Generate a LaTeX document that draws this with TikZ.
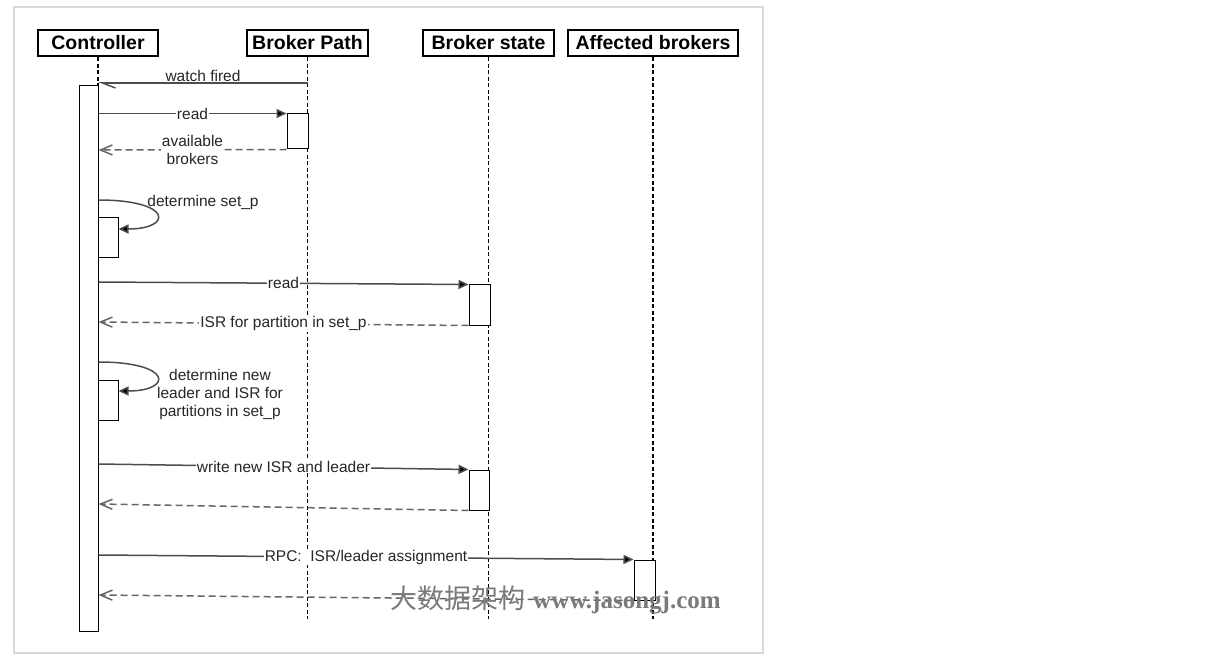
\documentclass[tikz,border=0pt]{standalone}
\usepackage{fontspec}
\setmainfont{Liberation Sans}
\newfontfamily\cjk{Noto Sans CJK SC}
\newfontfamily\wmfont{Liberation Serif}
\usetikzlibrary{arrows.meta,positioning}
\definecolor{seqgray}{HTML}{4D4D4D}
\definecolor{seqdash}{HTML}{666666}
\definecolor{seqtext}{HTML}{262626}
\definecolor{seqframe}{HTML}{D9D9D9}
\definecolor{seqmark}{HTML}{7A7A7A}
\tikzset{
  head/.style={draw=black,line width=2.4pt,fill=white,font=\fontsize{19.5}{22}\selectfont\bfseries,inner sep=0pt,minimum height=26pt},
  life/.style={draw=black,line width=1.9pt,dash pattern=on 4pt off 2.5pt},
  act/.style={draw=black,line width=1pt,fill=white,inner sep=0pt,minimum width=20pt},
  msg/.style={-{Triangle[length=10pt,width=9pt,fill=black]},draw=seqgray,line width=1.5pt},
  ret/.style={-{Straight Barb[length=12pt,width=10pt]},draw=seqdash,line width=1.5pt,dash pattern=on 7pt off 4pt},
  lbl/.style={fill=white,text=seqtext,inner sep=1pt,font=\fontsize{15.5}{18}\selectfont,align=center},
  note/.style={lbl,fill=none},
}
\begin{document}
\begin{tikzpicture}[x=1pt,y=-1pt]
  \useasboundingbox (0,0) rectangle (1219,663);
  \draw[seqframe,line width=1.5pt] (14,7) rectangle (763,653);
  % lifelines
  \node[head,minimum width=120pt] (ctrl) at (98,43) {Controller};
  \node[head,minimum width=121pt] (bpath) at (307.5,43) {Broker Path};
  \node[head,minimum width=131pt] (bstate) at (488.5,43) {Broker state};
  \node[head,minimum width=170pt] (affb) at (653,43) {Affected brokers};
  \coordinate (bot) at (0,619);
  \foreach \p in {ctrl,bpath,bstate,affb}
    \draw[life] (\p.south) -- (\p.south |- bot);
  % activations
  \node[act,minimum width=19pt,minimum height=545pt] (ca) at (88.5,358.5) {};
  \node[act,minimum width=21pt,minimum height=35pt] (bp1) at (297.5,131.5) {};
  \node[act,minimum height=40pt] (sa1) at (108,238) {};
  \node[act,minimum width=21pt,minimum height=40pt] (bs1) at (479.5,305) {};
  \node[act,minimum height=40pt] (sa2) at (108,400) {};
  \node[act,minimum height=40pt] (bs2) at (479,490) {};
  \node[act,minimum width=21pt,minimum height=40pt] (ab1) at (644.5,580) {};
  % messages
  \draw[draw=seqgray,line width=1.5pt,-{Straight Barb[harpoon,length=13pt,width=10pt]}] (bpath.south |- 0,83) -- (ca.east |- 0,83) node[midway,above,note]{watch fired};
  \draw[msg] (ca.east |- bp1.north) -- (bp1.north west) node[midway,lbl]{read};
  \draw[ret] (bp1.south west) -- (ca.east |- 0,150) node[midway,lbl]{available\\brokers};
  \draw[msg] (ca.east |- 0,200) .. controls (173,200) and (173,229) .. (sa1.east |- 0,229);
  \node[note] (lsetp) at (203,202) {determine set\_p};
  \draw[msg] (ca.east |- 0,282) -- (bs1.north west) node[midway,lbl]{read};
  \draw[ret] (bs1.south west) -- (ca.east |- 0,322) node[midway,lbl]{ISR for partition in set\_p};
  \draw[msg] (ca.east |- 0,362) .. controls (173,362) and (173,391) .. (sa2.east |- 0,391);
  \node[note] (lnew) at (220,394) {determine new\\leader and ISR for\\partitions in set\_p};
  \draw[msg] (ca.east |- 0,464) -- (bs2.north west) node[midway,lbl]{write new ISR and leader};
  \draw[ret] (bs2.south west) -- (ca.east |- 0,504);
  \draw[msg] (ca.east |- 0,555) -- (ab1.north west) node[midway,lbl]{RPC:\ \ ISR/leader assignment};
  \draw[ret] (ab1.south west) -- (ca.east |- 0,595);
  % watermark
  \node[anchor=west,text=seqmark,inner sep=0pt] (mark) at (390,600) {{\cjk\fontsize{27}{30}\selectfont 大数据架构}\hspace{8pt}{\wmfont\bfseries\fontsize{25}{30}\selectfont www.jasongj.com}};
\end{tikzpicture}
\end{document}
